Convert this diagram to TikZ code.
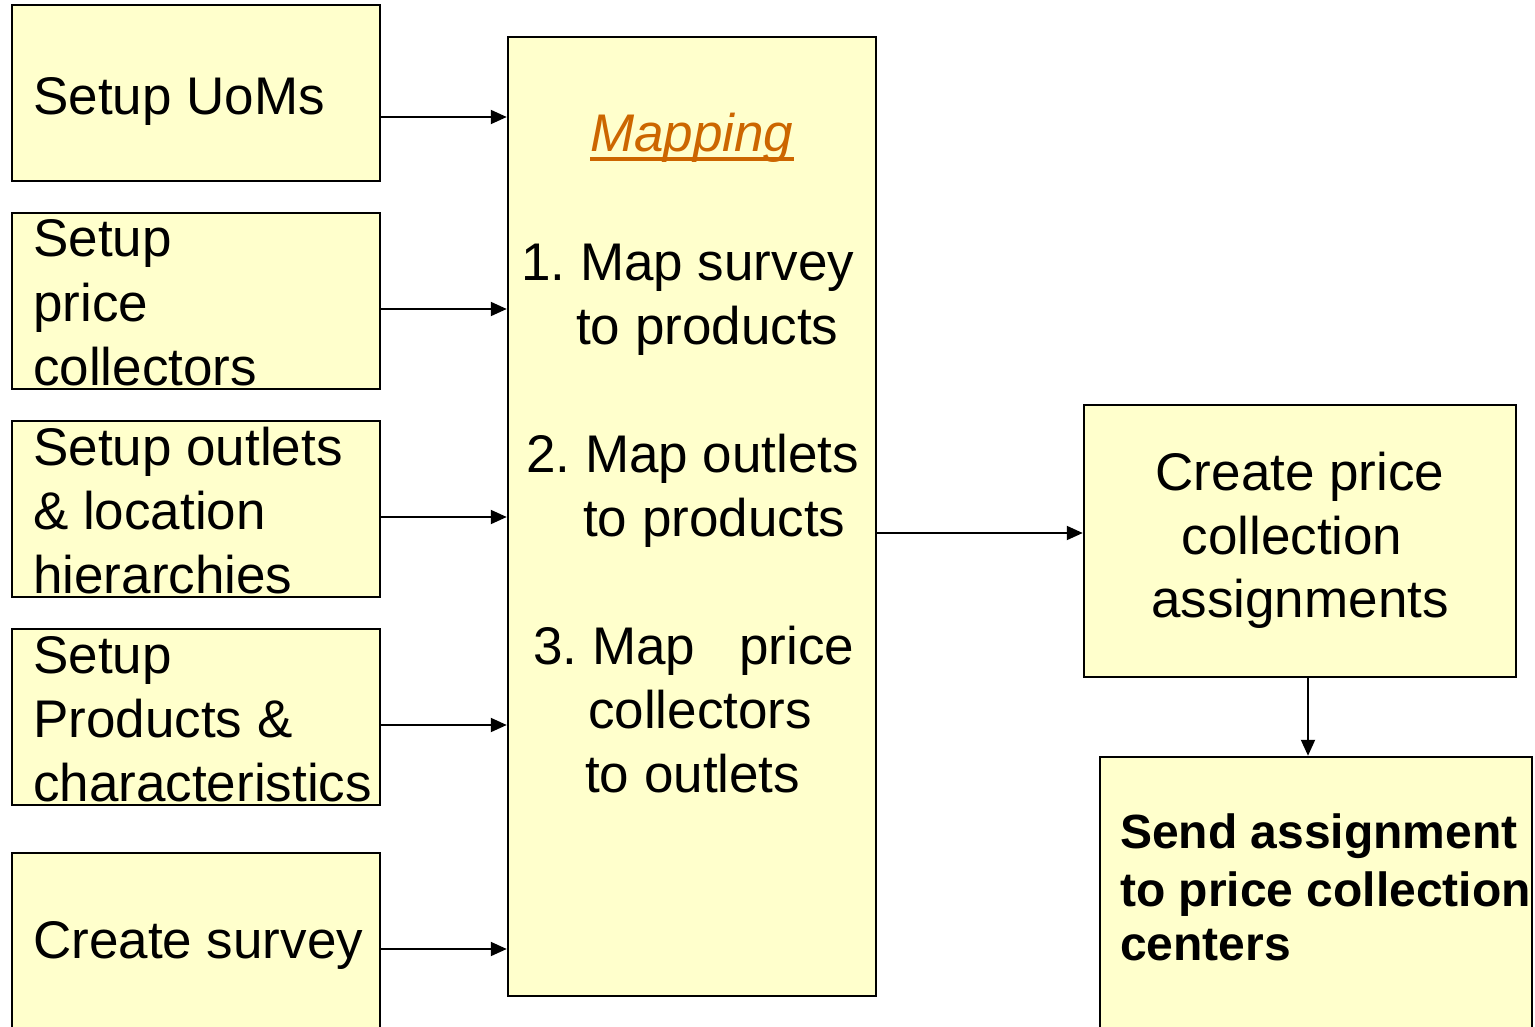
\documentclass[tikz,border=0pt]{standalone}
\usepackage{fontspec}
\setmainfont{Liberation Sans}
\usetikzlibrary{arrows.meta}
\definecolor{boxfill}{HTML}{FFFFCC}
\definecolor{mapcol}{HTML}{CC6600}
\frenchspacing
\begin{document}
\begin{tikzpicture}[x=1pt,y=-1pt,
  box/.style={draw=black,line width=2.5pt,fill=boxfill,inner sep=0pt,anchor=center},
  txt/.style={inner sep=0pt,anchor=base west,font=\fontsize{53}{64}\selectfont},
  ctxt/.style={inner sep=0pt,anchor=base,font=\fontsize{53}{64}\selectfont},
  btxt/.style={inner sep=0pt,anchor=base west,font=\fontsize{48}{56}\selectfont\bfseries},
  arr/.style={line width=2pt,-{Triangle[length=16pt,width=14pt]}}]
\path[use as bounding box,clip] (0,0) rectangle (1535,1027);
\fill[white] (0,0) rectangle (1535,1027);
% left boxes
\node[box,minimum width=368pt,minimum height=176pt] (b1) at (196,93) {};
\node[box,minimum width=368pt,minimum height=176pt] (b2) at (196,301) {};
\node[box,minimum width=368pt,minimum height=176pt] (b3) at (196,509) {};
\node[box,minimum width=368pt,minimum height=176pt] (b4) at (196,717) {};
\node[box,minimum width=368pt,minimum height=192pt] (b5) at (196,949) {};
% mapping box
\node[box,minimum width=368pt,minimum height=959pt] (map) at (692,516.5) {};
% right boxes
\node[box,minimum width=432pt,minimum height=272pt] (cp) at (1300,541) {};
\node[box,minimum width=432pt,minimum height=302pt] (sb) at (1316,908) {};
% left texts
\node[txt] (t1) at (33,115) {Setup UoMs};
\node[txt] (t2a) at (33,257) {Setup};
\node[txt] (t2b) at (33,321) {price};
\node[txt] (t2c) at (33,385) {collectors};
\node[txt] (t3a) at (33,465) {Setup outlets};
\node[txt] (t3b) at (33,529) {\& location};
\node[txt] (t3c) at (33,593) {hierarchies};
\node[txt] (t4a) at (33,673) {Setup};
\node[txt] (t4b) at (33,737) {Products \&};
\node[txt] (t4c) at (33,801) {characteristics};
\node[txt] (t5) at (33,958) {Create survey};
% mapping texts
\node[txt,font=\fontsize{53}{64}\selectfont\itshape,text=mapcol] (mp) at (590,152) {Mapping};
\draw[line width=3.5pt,mapcol] ([yshift=-7pt]mp.base west) -- ([yshift=-7pt]mp.base east);
\node[txt] (m1a) at (521,280) {1. Map survey};
\node[txt] (m1b) at (576,344) {to products};
\node[txt] (m2a) at (526,472) {2. Map outlets};
\node[txt] (m2b) at (583,536) {to products};
\node[txt] (m3a) at (533,664) {3. Map\hspace{44pt}price};
\node[txt] (m3b) at (588,728) {collectors};
\node[txt] (m3c) at (585,792) {to outlets};
% right texts
\node[ctxt] (c1) at (1300,490) {Create price};
\node[ctxt] (c2) at (1292,554) {collection};
\node[ctxt] (c3) at (1300,617) {assignments};
\node[btxt] (s1) at (1120,848) {Send assignment};
\node[btxt] (s2) at (1120,906) {to price collection};
\node[btxt] (s3) at (1120,960) {centers};
% connectors
\draw[arr] ([yshift=-24pt]b1.east) coordinate (a1) -- (a1 -| map.west);
\draw[arr] ([yshift=-8pt]b2.east) coordinate (a2) -- (a2 -| map.west);
\draw[arr] ([yshift=-8pt]b3.east) coordinate (a3) -- (a3 -| map.west);
\draw[arr] ([yshift=-8pt]b4.east) coordinate (a4) -- (a4 -| map.west);
\draw[arr] (b5.east) -- (b5.east -| map.west);
\draw[arr] ([yshift=-16.5pt]map.east) coordinate (a6) -- (a6 -| cp.west);
\draw[arr] ([xshift=8pt]cp.south) coordinate (a7) -- (a7 |- sb.north);
\end{tikzpicture}
\end{document}
